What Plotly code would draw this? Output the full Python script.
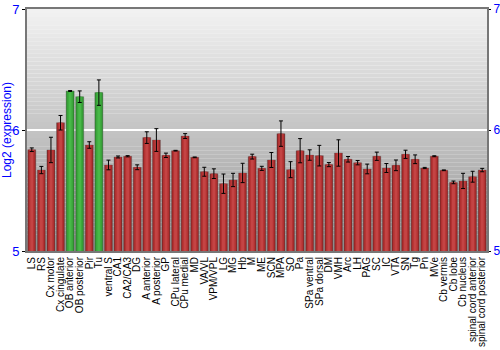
import plotly.graph_objects as go

regions = ["LS", "RS", "Cx motor", "Cx cingulate", "OB anterior", "OB posterior", "Pir", "Tu",
           "ventral S", "CA1", "CA2/CA3", "DG", "A anterior", "A posterior", "GP", "CPu lateral",
           "CPu medial", "MD", "VA/VL", "VPM/VPL", "LG", "MG", "Hb", "M", "ME", "SCN", "MPA", "SO",
           "Pa", "SPa ventral", "SPa dorsal", "DM", "VMH", "Arc", "LH", "PAG", "SC", "IC", "VTA",
           "SN", "Tg", "Pn", "MVe", "Cb vermis", "Cb lobe", "Cb nucleus", "spinal cord anterior",
           "spinal cord posterior"]

expression = [5.837, 5.669, 5.835, 6.060, 6.322, 6.275, 5.876, 6.309,
              5.711, 5.777, 5.783, 5.692, 5.937, 5.917, 5.791, 5.829,
              5.950, 5.774, 5.655, 5.639, 5.556, 5.587, 5.645, 5.780, 5.683, 5.752, 5.970, 5.672,
              5.829, 5.793, 5.788, 5.714, 5.810, 5.758, 5.730, 5.678, 5.783, 5.686, 5.708,
              5.799, 5.758, 5.686, 5.783, 5.667, 5.567, 5.579, 5.614,
              5.669]

error = [0.015, 0.030, 0.105, 0.060, 0.004, 0.048, 0.027, 0.105,
         0.040, 0.008, 0.005, 0.020, 0.048, 0.094, 0.018, 0.003,
         0.020, 0.003, 0.037, 0.040, 0.080, 0.055, 0.080, 0.020, 0.017, 0.062, 0.105, 0.066,
         0.100, 0.043, 0.085, 0.017, 0.109, 0.023, 0.018, 0.040, 0.034, 0.037, 0.044,
         0.034, 0.036, 0.005, 0.004, 0.003, 0.011, 0.063, 0.045,
         0.014]

y_ticks = [5, 6, 7]

highlighted = ["OB anterior", "OB posterior", "Tu"]

dark = ["#2d8a2d" if r in highlighted else "#8e2222" for r in regions]
mid = ["#3aa63a" if r in highlighted else "#b33232" for r in regions]
light = ["#48b848" if r in highlighted else "#c44444" for r in regions]

fig = go.Figure()
fig.add_trace(go.Bar(x=regions, y=expression, width=0.84,
                     marker=dict(color=dark, line=dict(color="rgba(90,90,90,0.6)", width=0.6)),
                     hoverinfo="skip"))
fig.add_trace(go.Bar(x=regions, y=expression, width=0.62,
                     marker=dict(color=mid, line=dict(width=0)), hoverinfo="skip"))
fig.add_trace(go.Bar(x=regions, y=expression, width=0.3,
                     marker=dict(color=light, line=dict(width=0)),
                     error_y=dict(type="data", array=error, color="black", thickness=1, width=2)))
# invisible trace to carry the right-hand axis
fig.add_trace(go.Scatter(x=[regions[0]], y=[y_ticks[0]], yaxis="y2", mode="markers",
                         marker=dict(opacity=0), hoverinfo="skip"))

# vertical gradient background
n = 60
top, bottom = 0xf2, 0x96
shapes = []
for i in range(n):
    c = int(round(top + (bottom - top) * (i + 0.5) / n))
    shapes.append(dict(type="rect", xref="x domain", yref="y domain",
                       x0=0, x1=1, y0=1 - (i + 1) / n, y1=1 - i / n,
                       fillcolor=f"rgb({c},{c},{c})", line=dict(width=0), layer="below"))

fig.update_layout(
    width=500, height=350,
    margin=dict(l=27, r=13, t=9, b=99),
    barmode="overlay",
    showlegend=False,
    paper_bgcolor="white",
    plot_bgcolor="rgba(0,0,0,0)",
    shapes=shapes,
    font=dict(family="Liberation Sans, Arial, sans-serif", size=10, color="black"),
    xaxis=dict(tickangle=-90, tickfont=dict(size=10, color="black"), showgrid=False,
               tickmode="array", tickvals=regions, ticktext=regions, automargin=False,
               showline=True, linecolor="#777777", linewidth=2, mirror=True,
               ticks="", range=[-0.5, len(regions) - 0.5]),
    yaxis=dict(range=[5, 7], tickvals=y_ticks, ticktext=[str(v) for v in y_ticks],
               tickfont=dict(size=13, color="blue"), showgrid=True, gridcolor="white",
               gridwidth=2, showline=True, linecolor="#777777", linewidth=2,
               ticks="outside", ticklen=3, tickcolor="black", automargin=False,
               zeroline=False,
               title=dict(text="Log2 (expression)", font=dict(size=12, color="blue"), standoff=4)),
    yaxis2=dict(range=[5, 7], tickvals=y_ticks, ticktext=[str(v) for v in y_ticks],
                overlaying="y", side="right", showgrid=False, zeroline=False, automargin=False,
                tickfont=dict(size=12, color="blue"), showline=True, linecolor="#777777",
                linewidth=2, ticks="outside", ticklen=2, tickcolor="black"),
)

fig.write_html("out.html")
